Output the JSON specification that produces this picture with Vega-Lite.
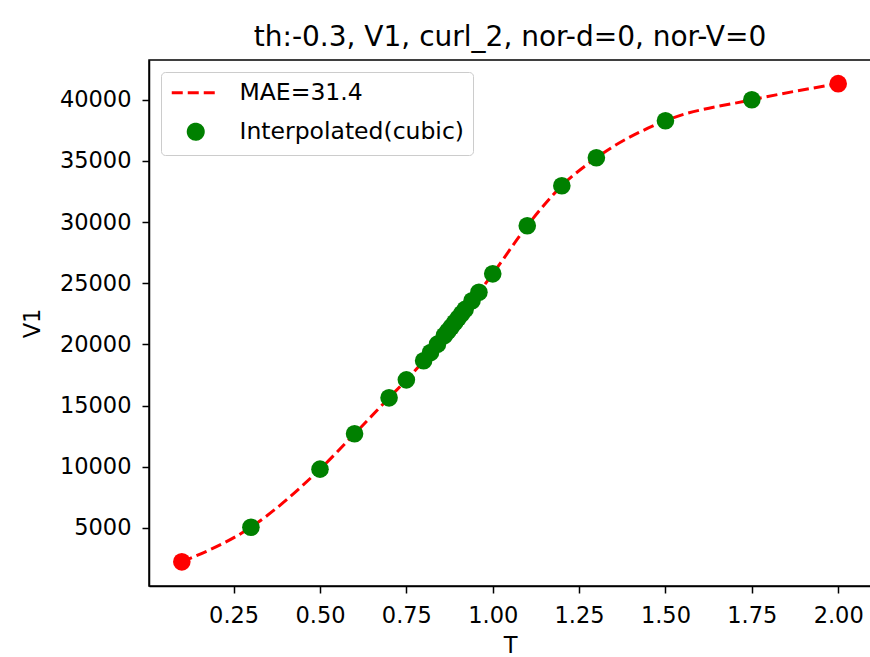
{
  "$schema": "https://vega.github.io/schema/vega-lite/v6.json",
  "width": 722,
  "height": 526,
  "autosize": {"type": "none"},
  "padding": {"left": 149, "top": 60, "right": 0, "bottom": 71},
  "background": "white",
  "title": {
    "text": "th:-0.3, V1, curl_2, nor-d=0, nor-V=0",
    "font": "DejaVu Sans",
    "fontSize": 28,
    "fontWeight": "normal",
    "color": "black",
    "anchor": "middle",
    "offset": 8
  },
  "config": {
    "view": {"stroke": "black", "strokeWidth": 1.5},
    "axis": {
      "grid": false,
      "domainColor": "black",
      "domainWidth": 1.5,
      "tickColor": "black",
      "tickWidth": 1.5,
      "tickSize": 7,
      "labelFont": "DejaVu Sans",
      "labelFontSize": 22.5,
      "labelColor": "black",
      "titleFont": "DejaVu Sans",
      "titleFontSize": 22.5,
      "titleFontWeight": "normal",
      "titleColor": "black"
    },
    "legend": {
      "orient": "top-left",
      "offset": 12,
      "fillColor": "rgba(255,255,255,0.8)",
      "strokeColor": "#cccccc",
      "cornerRadius": 4,
      "padding": 9,
      "labelFont": "DejaVu Sans",
      "labelFontSize": 23.5,
      "labelColor": "black",
      "labelLimit": 500,
      "symbolSize": 225,
      "symbolStrokeWidth": 3,
      "symbolOpacity": 1,
      "symbolOffset": 14,
      "labelOffset": 32,
      "rowPadding": 13
    }
  },
  "datasets": {
    "pts": [
      {"T": 0.1, "V1": 2220, "kind": "Given"},
      {"T": 0.3, "V1": 5050, "kind": "Interpolated(cubic)"},
      {"T": 0.5, "V1": 9800, "kind": "Interpolated(cubic)"},
      {"T": 0.6, "V1": 12690, "kind": "Interpolated(cubic)"},
      {"T": 0.7, "V1": 15630, "kind": "Interpolated(cubic)"},
      {"T": 0.75, "V1": 17100, "kind": "Interpolated(cubic)"},
      {"T": 0.8, "V1": 18660, "kind": "Interpolated(cubic)"},
      {"T": 0.82, "V1": 19330, "kind": "Interpolated(cubic)"},
      {"T": 0.84, "V1": 20020, "kind": "Interpolated(cubic)"},
      {"T": 0.86, "V1": 20720, "kind": "Interpolated(cubic)"},
      {"T": 0.87, "V1": 21080, "kind": "Interpolated(cubic)"},
      {"T": 0.88, "V1": 21430, "kind": "Interpolated(cubic)"},
      {"T": 0.89, "V1": 21790, "kind": "Interpolated(cubic)"},
      {"T": 0.9, "V1": 22150, "kind": "Interpolated(cubic)"},
      {"T": 0.91, "V1": 22500, "kind": "Interpolated(cubic)"},
      {"T": 0.92, "V1": 22860, "kind": "Interpolated(cubic)"},
      {"T": 0.94, "V1": 23570, "kind": "Interpolated(cubic)"},
      {"T": 0.96, "V1": 24270, "kind": "Interpolated(cubic)"},
      {"T": 1.0, "V1": 25770, "kind": "Interpolated(cubic)"},
      {"T": 1.1, "V1": 29700, "kind": "Interpolated(cubic)"},
      {"T": 1.2, "V1": 32970, "kind": "Interpolated(cubic)"},
      {"T": 1.3, "V1": 35260, "kind": "Interpolated(cubic)"},
      {"T": 1.5, "V1": 38290, "kind": "Interpolated(cubic)"},
      {"T": 1.75, "V1": 40000, "kind": "Interpolated(cubic)"},
      {"T": 2.0, "V1": 41320, "kind": "Given"}
    ]
  },
  "data": {"name": "pts"},
  "encoding": {
    "x": {
      "field": "T",
      "type": "quantitative",
      "scale": {"domain": [0.005, 2.095], "nice": false, "zero": false},
      "axis": {
        "values": [0.25, 0.5, 0.75, 1.0, 1.25, 1.5, 1.75, 2.0],
        "format": ".2f",
        "labelPadding": 11,
        "titlePadding": 8,
        "title": "T"
      }
    },
    "y": {
      "field": "V1",
      "type": "quantitative",
      "scale": {"domain": [245, 43255], "nice": false, "zero": false},
      "axis": {
        "values": [5000, 10000, 15000, 20000, 25000, 30000, 35000, 40000],
        "format": "d",
        "labelPadding": 11,
        "titlePadding": 15,
        "title": "V1"
      }
    }
  },
  "layer": [
    {
      "mark": {
        "type": "line",
        "interpolate": "monotone",
        "color": "#ff0000",
        "strokeWidth": 3,
        "strokeDash": [11, 5]
      }
    },
    {
      "mark": {"type": "point", "filled": true, "opacity": 1, "size": 310, "strokeWidth": 0},
      "encoding": {
        "color": {
          "field": "kind",
          "type": "nominal",
          "scale": {
            "domain": ["MAE=31.4", "Interpolated(cubic)", "Given"],
            "range": ["#ff0000", "#008000", "#ff0000"]
          },
          "legend": {"title": null, "values": ["MAE=31.4", "Interpolated(cubic)"]}
        },
        "stroke": {
          "field": "kind",
          "type": "nominal",
          "scale": {
            "domain": ["MAE=31.4", "Interpolated(cubic)", "Given"],
            "range": ["#ff0000", "#008000", "#ff0000"]
          },
          "legend": {"title": null, "values": ["MAE=31.4", "Interpolated(cubic)"]}
        },
        "shape": {
          "field": "kind",
          "type": "nominal",
          "scale": {
            "domain": ["MAE=31.4", "Interpolated(cubic)", "Given"],
            "range": ["M-3.2,0L3.2,0", "circle", "circle"]
          },
          "legend": {"title": null, "values": ["MAE=31.4", "Interpolated(cubic)"]}
        },
        "strokeDash": {
          "field": "kind",
          "type": "nominal",
          "scale": {
            "domain": ["MAE=31.4", "Interpolated(cubic)", "Given"],
            "range": [[11, 5], [1, 0], [1, 0]]
          },
          "legend": {"title": null, "values": ["MAE=31.4", "Interpolated(cubic)"]}
        }
      }
    }
  ]
}
